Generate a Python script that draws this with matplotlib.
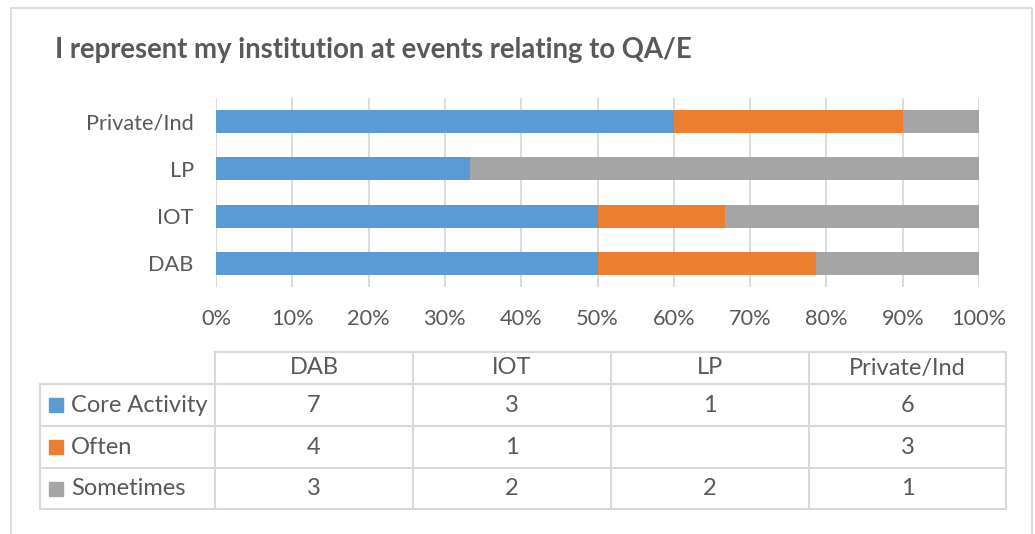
import matplotlib
matplotlib.use("Agg")
import matplotlib.pyplot as plt
from matplotlib.patches import Rectangle

# ---------------- DATA ---------------- #

categories = ["DAB", "IOT", "LP", "Private/Ind"]
series_names = ["Core Activity", "Often", "Sometimes"]
core_activity = [7, 3, 1, 6]
often = [4, 1, None, 3]          # LP has no "Often" answers (blank cell)
sometimes = [3, 2, 2, 1]
pct_ticks = [0, 10, 20, 30, 40, 50, 60, 70, 80, 90, 100]

title = "I represent my institution at events relating to QA/E"

# ---------------- STYLE ---------------- #

colors = ["#5B9BD5", "#ED7D31", "#A5A5A5"]
text_color = "#595959"
line_color = "#D9D9D9"

plt.rcParams["font.family"] = ["Lato", "DejaVu Sans"]

W, H = 1035, 534
fig = plt.figure(figsize=(W / 100, H / 100), dpi=100)

# pixel-space overlay for border, title and data table
over = fig.add_axes([0, 0, 1, 1])
over.set_xlim(0, W)
over.set_ylim(H, 0)
over.axis("off")

# ---------------- BAR CHART ---------------- #

left, right, top, bottom = 216, 979, 98, 287
ax = fig.add_axes([left / W, (H - bottom) / H, (right - left) / W, (bottom - top) / H])

series = [core_activity, [v or 0 for v in often], sometimes]
totals = [sum(col) for col in zip(*series)]
ypos = range(len(categories))

start = [0.0] * len(categories)
for vals, c in zip(series, colors):
    pct = [100.0 * v / t for v, t in zip(vals, totals)]
    ax.barh(ypos, pct, left=start, height=0.49, color=c, zorder=3)
    start = [s + p for s, p in zip(start, pct)]

ax.set_xlim(0, 100)
ax.set_ylim(-0.5, len(categories) - 0.5)
ax.set_xticks(pct_ticks)
ax.set_xticklabels([f"{t}%" for t in pct_ticks])
ax.set_yticks(list(ypos))
ax.set_yticklabels(categories)
ax.grid(axis="x", color=line_color, linewidth=1.3, zorder=0)
for s in ax.spines.values():
    s.set_visible(False)
ax.tick_params(axis="both", length=0, labelsize=15.7, labelcolor=text_color)
ax.tick_params(axis="y", pad=16)
ax.tick_params(axis="x", pad=16)
ax.set_facecolor("none")

# ---------------- BORDER + TITLE ---------------- #

over.plot([11, 11, 1032, 1032], [H, 8, 8, H], color=line_color, linewidth=1.3)
over.text(55, 58, title, fontsize=19.8, fontweight="bold", color=text_color,
          ha="left", va="baseline")

# ---------------- DATA TABLE ---------------- #

col_edges = [215, 413, 611, 809, 1006]
row_edges = [352, 384, 426, 468, 509]
label_left = 40

lw = 1.5
over.plot([col_edges[0], col_edges[-1]], [row_edges[0]] * 2, color=line_color, lw=lw)
for y in row_edges[1:]:
    over.plot([label_left, col_edges[-1]], [y, y], color=line_color, lw=lw)
for x in col_edges:
    over.plot([x, x], [row_edges[0], row_edges[-1]], color=line_color, lw=lw)
over.plot([label_left] * 2, [row_edges[1], row_edges[-1]], color=line_color, lw=lw)

tsize = 17
for i, cat in enumerate(categories):
    cx = (col_edges[i] + col_edges[i + 1]) / 2
    over.text(cx, (row_edges[0] + row_edges[1]) / 2, cat, fontsize=tsize,
              color=text_color, ha="center", va="center")

table_rows = [core_activity, often, sometimes]
for r, (name, vals, c) in enumerate(zip(series_names, table_rows, colors)):
    cy = (row_edges[r + 1] + row_edges[r + 2]) / 2
    over.add_patch(Rectangle((49, cy - 7), 14, 14, color=c))
    over.text(71, cy, name, fontsize=tsize, color=text_color, ha="left", va="center")
    for i, v in enumerate(vals):
        cx = (col_edges[i] + col_edges[i + 1]) / 2
        over.text(cx, cy, "" if v is None else str(v), fontsize=tsize,
                  color=text_color, ha="center", va="center")

fig.savefig("out.png", dpi=100)
